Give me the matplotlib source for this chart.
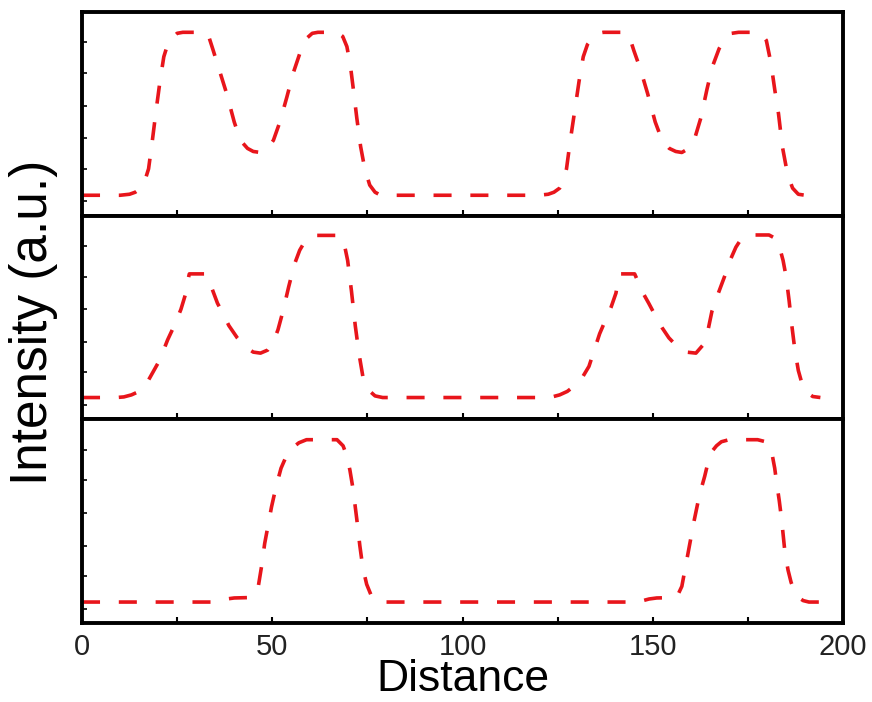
import matplotlib
matplotlib.use("Agg")
import matplotlib.pyplot as plt
from matplotlib.ticker import MultipleLocator

# intensity profiles (a.u.) along the scan line, one per panel
top_x = [0, 10, 12.5, 14, 15.5, 16.5, 17.5, 18.5, 19.5, 20.5, 21.5, 22.5,
         23.5, 25, 26.5, 32, 33.3, 34.5, 36, 38, 40, 41.6, 43.5, 45, 46.9,
         48.8, 50.3, 52, 53.8, 55.5, 57.3, 59, 60.5, 62, 67, 68.5, 69.6,
         70.5, 71.3, 72.2, 73.2, 74.3, 75.6, 77, 78.5, 120, 122.5, 124,
         125.5, 126.5, 127.3, 128.3, 129.5, 130.6, 131.7, 132.8, 134, 135.5,
         137, 142.5, 143.8, 145, 146.7, 148.6, 150.6, 152.4, 154.3, 156,
         157.6, 159.4, 161, 162.6, 164.2, 165.6, 167.4, 169, 170.7, 172.5,
         177, 178.6, 179.8, 181, 182, 183, 184, 185.4, 186.7, 188.2, 190, 193]
top_y = [0.10, 0.10, 0.105, 0.115, 0.135, 0.17, 0.23, 0.37, 0.52, 0.66,
         0.78, 0.84, 0.87, 0.895, 0.90, 0.90, 0.88, 0.81, 0.72, 0.60, 0.46,
         0.37, 0.33, 0.315, 0.31, 0.33, 0.37, 0.46, 0.58, 0.70, 0.80, 0.87,
         0.895, 0.90, 0.90, 0.88, 0.83, 0.74, 0.62, 0.48, 0.34, 0.23, 0.15,
         0.115, 0.10, 0.10, 0.105, 0.115, 0.135, 0.17, 0.23, 0.37, 0.52,
         0.66, 0.78, 0.84, 0.87, 0.895, 0.90, 0.90, 0.88, 0.81, 0.72, 0.60,
         0.46, 0.37, 0.33, 0.315, 0.31, 0.33, 0.38, 0.48, 0.62, 0.73, 0.82,
         0.87, 0.895, 0.90, 0.90, 0.89, 0.86, 0.75, 0.62, 0.50, 0.34, 0.20,
         0.135, 0.105, 0.10, 0.10]

mid_x = [0, 9, 11, 13, 15, 16.8, 18.3, 20.4, 22.5, 24.5, 26, 27.3, 27.8,
         28.2, 32.5, 33.2, 34.2, 35.6, 37, 38.6, 40.8, 43, 45, 46.9, 48.8,
         50.3, 51.5, 52.8, 54.3, 55.8, 57.2, 58.6, 60, 61.5, 67.5, 68.8,
         69.8, 70.8, 71.8, 72.8, 73.8, 75.2, 77, 79, 121, 123.5, 125.5,
         127.5, 129.8, 131.6, 133.2, 134.6, 136, 137.6, 139, 140.3, 140.8,
         141.2, 145.2, 146, 147.1, 148.9, 150.6, 152.4, 154.2, 156.5, 158.8,
         161.3, 163.4, 164.5, 165.5, 167.2, 169, 170.5, 171.8, 173, 174.5,
         176, 180.5, 182, 183.2, 184.2, 185, 185.8, 186.5, 187.3, 188.2,
         189.4, 190.6, 192, 194]
mid_y = [0.107, 0.107, 0.11, 0.12, 0.137, 0.17, 0.22, 0.29, 0.39, 0.47,
         0.54, 0.62, 0.68, 0.714, 0.714, 0.68, 0.64, 0.57, 0.52, 0.46, 0.40,
         0.355, 0.33, 0.325, 0.34, 0.38, 0.44, 0.53, 0.65, 0.76, 0.83,
         0.875, 0.895, 0.903, 0.903, 0.87, 0.78, 0.63, 0.46, 0.32, 0.21,
         0.145, 0.115, 0.107, 0.107, 0.11, 0.12, 0.137, 0.17, 0.21, 0.26,
         0.34, 0.42, 0.49, 0.55, 0.62, 0.68, 0.714, 0.714, 0.68, 0.63, 0.57,
         0.51, 0.45, 0.40, 0.355, 0.33, 0.325, 0.37, 0.44, 0.53, 0.62, 0.71,
         0.79, 0.845, 0.88, 0.90, 0.905, 0.905, 0.89, 0.85, 0.78, 0.70,
         0.58, 0.46, 0.34, 0.24, 0.16, 0.13, 0.112, 0.107]

bot_x = [0, 34, 36, 38, 40, 44, 45.3, 46.3, 47.2, 48, 49, 49.8, 51, 52.3,
         53.7, 55.3, 57, 59, 67, 68.6, 69.6, 70.4, 71.2, 72.2, 73, 73.8,
         74.8, 76, 77.5, 79, 145, 147, 149, 151, 155.3, 156.6, 157.6, 158.7,
         159.7, 160.8, 161.8, 162.7, 163.6, 164.5, 165.4, 166.7, 168, 170,
         177.5, 179.6, 180.5, 181.2, 182, 182.5, 183.2, 183.8, 184.7, 185.5,
         186.3, 187.2, 188, 189.5, 191, 196]
bot_y = [0.103, 0.103, 0.108, 0.118, 0.123, 0.125, 0.14, 0.177, 0.28, 0.39,
         0.49, 0.57, 0.67, 0.76, 0.82, 0.86, 0.885, 0.90, 0.90, 0.87, 0.82,
         0.75, 0.66, 0.51, 0.38, 0.27, 0.19, 0.135, 0.11, 0.103, 0.103,
         0.108, 0.118, 0.123, 0.125, 0.14, 0.18, 0.29, 0.39, 0.50, 0.59,
         0.66, 0.72, 0.79, 0.84, 0.87, 0.89, 0.90, 0.90, 0.89, 0.87, 0.84,
         0.76, 0.69, 0.60, 0.51, 0.345, 0.26, 0.20, 0.155, 0.128, 0.11,
         0.103, 0.103]

x_ticks = [0, 50, 100, 150, 200]
y_ticks = [0.07, 0.23, 0.38, 0.54, 0.70, 0.85]


def main():
    '''
    three stacked intensity profiles sharing the distance axis
    '''
    plt.rcParams['font.family'] = ['Liberation Sans', 'DejaVu Sans']
    fig, axes = plt.subplots(3, 1, sharex=True, figsize=(8.72, 7.02),
                             dpi=100)
    fig.subplots_adjust(left=0.094, right=0.967, top=0.983, bottom=0.1125,
                        hspace=0)

    profiles = [(top_x, top_y), (mid_x, mid_y), (bot_x, bot_y)]
    for ax, (xs, ys) in zip(axes, profiles):
        ax.plot(xs, ys, color='#e8151b', lw=2.6, dashes=(5, 5.2),
                solid_capstyle='butt', dash_capstyle='butt')
        ax.set_ylim(0, 1)
        ax.set_yticks(y_ticks)
        ax.set_yticklabels([])
        ax.tick_params(axis='y', direction='in', length=3.5, width=1.2,
                       left=True, right=False)
        ax.tick_params(axis='x', which='both', direction='in', length=4,
                       width=1.5, top=False)
        for side in ax.spines.values():
            side.set_linewidth(2.8)

    ax = axes[-1]
    ax.set_xlim(0, 200)
    ax.set_xticks(x_ticks)
    ax.xaxis.set_minor_locator(MultipleLocator(25))
    ax.tick_params(axis='x', labelsize=21, pad=7, labelcolor='#222222')
    ax.set_xlabel('Distance', fontsize=32, labelpad=-1)

    fig.text(0.038, 0.541, 'Intensity (a.u.)', rotation=90, fontsize=37,
             ha='center', va='center')

    fig.savefig('out.png', dpi=100)


if __name__ == "__main__":
    main()
